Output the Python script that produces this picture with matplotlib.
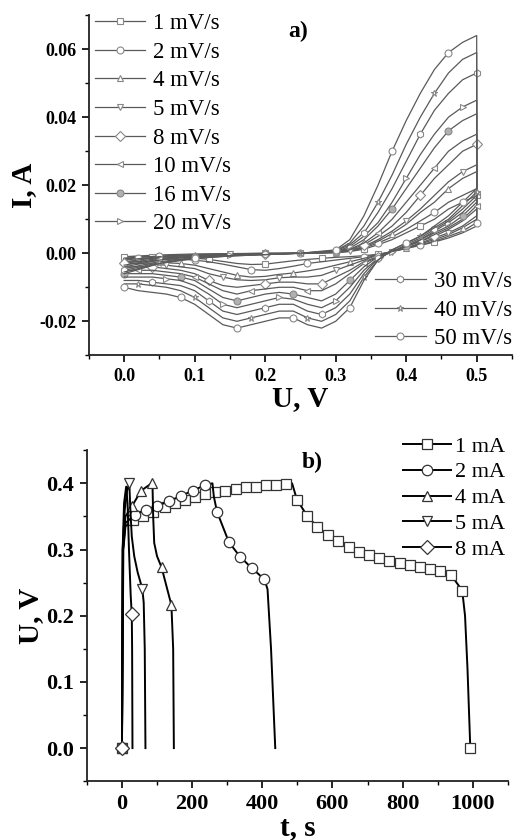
import matplotlib
matplotlib.use("Agg")
import matplotlib.pyplot as plt
from matplotlib.ticker import MultipleLocator, FormatStrFormatter

plt.rcParams["font.family"] = ["Liberation Serif", "DejaVu Serif"]

# ---- panel a: cyclic voltammograms ----
scan_labels = ["1 mV/s", "2 mV/s", "4 mV/s", "5 mV/s", "8 mV/s", "10 mV/s",
               "16 mV/s", "20 mV/s", "30 mV/s", "40 mV/s", "50 mV/s"]
scan_markers = ["s", "o", "^", "v", "D", "<", "o", ">", "h", "*", "o"]

u_fwd = [0.00, 0.05, 0.10, 0.15, 0.20, 0.25, 0.30, 0.32, 0.34, 0.36, 0.38,
         0.40, 0.42, 0.44, 0.46, 0.48, 0.50]
u_rev = [0.50, 0.48, 0.46, 0.44, 0.42, 0.40, 0.38, 0.36, 0.34, 0.32, 0.30,
         0.28, 0.26, 0.24, 0.22, 0.20, 0.18, 0.16, 0.14, 0.12, 0.10, 0.08,
         0.06, 0.04, 0.02, 0.00]

i_fwd = [
    [-0.001, -0.0005, -0.0002, -0.0001, 0.0, 0.0, 0.0002, 0.0005, 0.0012, 0.0025, 0.004, 0.006, 0.008, 0.010, 0.013, 0.015, 0.017],
    [-0.0015, -0.0008, -0.0004, -0.0002, 0.0, 0.0, 0.0002, 0.0006, 0.0015, 0.003, 0.0048, 0.007, 0.0095, 0.012, 0.015, 0.017, 0.019],
    [-0.002, -0.001, -0.0005, -0.0002, -0.0001, 0.0, 0.0002, 0.0007, 0.0018, 0.0035, 0.0058, 0.0085, 0.012, 0.015, 0.019, 0.022, 0.024],
    [-0.0025, -0.0012, -0.0006, -0.0003, -0.0001, 0.0, 0.0003, 0.0008, 0.002, 0.004, 0.0065, 0.0095, 0.013, 0.017, 0.021, 0.024, 0.026],
    [-0.003, -0.0015, -0.0008, -0.0004, -0.0002, 0.0, 0.0003, 0.001, 0.0025, 0.005, 0.008, 0.012, 0.017, 0.022, 0.026, 0.030, 0.032],
    [-0.0035, -0.0018, -0.0009, -0.0004, -0.0002, 0.0, 0.0004, 0.0012, 0.003, 0.006, 0.010, 0.015, 0.020, 0.025, 0.030, 0.033, 0.035],
    [-0.004, -0.002, -0.001, -0.0005, -0.0002, 0.0, 0.0005, 0.0015, 0.004, 0.008, 0.013, 0.019, 0.025, 0.031, 0.036, 0.039, 0.041],
    [-0.0045, -0.0025, -0.0012, -0.0006, -0.0003, 0.0, 0.0005, 0.002, 0.005, 0.009, 0.015, 0.022, 0.029, 0.035, 0.040, 0.043, 0.045],
    [-0.005, -0.0028, -0.0014, -0.0007, -0.0003, 0.0, 0.0007, 0.0025, 0.006, 0.012, 0.019, 0.027, 0.035, 0.042, 0.047, 0.051, 0.053],
    [-0.0055, -0.003, -0.0015, -0.0008, -0.0004, 0.0, 0.0008, 0.003, 0.008, 0.015, 0.023, 0.032, 0.040, 0.047, 0.053, 0.057, 0.059],
    [-0.006, -0.003, -0.0015, -0.0008, -0.0004, 0.0, 0.001, 0.004, 0.011, 0.020, 0.030, 0.039, 0.047, 0.054, 0.059, 0.062, 0.064],
]

i_rev = [
    [0.008, 0.006, 0.0045, 0.0033, 0.0023, 0.0014, 0.0005, -0.0003, -0.0007, -0.001, -0.0012, -0.0015, -0.0018, -0.0022, -0.0027, -0.0032, -0.0033, -0.003, -0.0024, -0.0018, -0.0014, -0.0012, -0.0011, -0.001, -0.001, -0.001],
    [0.009, 0.0065, 0.005, 0.0035, 0.0025, 0.0015, 0.0005, -0.0005, -0.001, -0.0015, -0.002, -0.0025, -0.003, -0.0038, -0.0045, -0.005, -0.0048, -0.004, -0.0032, -0.0025, -0.002, -0.0018, -0.0017, -0.0016, -0.0015, -0.0015],
    [0.010, 0.0075, 0.0055, 0.004, 0.0028, 0.0015, 0.0005, -0.0005, -0.0015, -0.0025, -0.0035, -0.0045, -0.0052, -0.0058, -0.0062, -0.0068, -0.007, -0.0065, -0.0055, -0.0045, -0.0035, -0.003, -0.0028, -0.0025, -0.0025, -0.0025],
    [0.011, 0.008, 0.006, 0.0045, 0.003, 0.0015, 0.0005, -0.0005, -0.002, -0.0035, -0.005, -0.0065, -0.007, -0.007, -0.0072, -0.0078, -0.008, -0.0078, -0.007, -0.006, -0.0045, -0.004, -0.0035, -0.0032, -0.003, -0.003],
    [0.013, 0.0095, 0.007, 0.005, 0.0035, 0.002, 0.0005, -0.001, -0.0025, -0.005, -0.007, -0.009, -0.009, -0.0085, -0.0085, -0.009, -0.0095, -0.010, -0.0095, -0.008, -0.006, -0.005, -0.0045, -0.004, -0.004, -0.004],
    [0.014, 0.010, 0.0075, 0.0055, 0.0035, 0.002, 0.0005, -0.001, -0.003, -0.006, -0.009, -0.011, -0.011, -0.010, -0.010, -0.0105, -0.011, -0.012, -0.011, -0.009, -0.007, -0.006, -0.0055, -0.005, -0.005, -0.005],
    [0.015, 0.011, 0.008, 0.006, 0.004, 0.002, 0.0005, -0.001, -0.004, -0.008, -0.012, -0.014, -0.013, -0.012, -0.0115, -0.012, -0.013, -0.014, -0.013, -0.0105, -0.008, -0.007, -0.0065, -0.006, -0.006, -0.006],
    [0.016, 0.012, 0.009, 0.0065, 0.004, 0.002, 0.0005, -0.0015, -0.005, -0.010, -0.014, -0.016, -0.015, -0.0135, -0.013, -0.014, -0.015, -0.016, -0.015, -0.012, -0.0095, -0.008, -0.0075, -0.007, -0.007, -0.007],
    [0.017, 0.013, 0.0095, 0.007, 0.0045, 0.0025, 0.0005, -0.0015, -0.006, -0.012, -0.016, -0.018, -0.017, -0.015, -0.015, -0.016, -0.017, -0.018, -0.017, -0.014, -0.011, -0.0095, -0.009, -0.0085, -0.008, -0.008],
    [0.018, 0.014, 0.010, 0.0075, 0.005, 0.003, 0.001, -0.002, -0.007, -0.014, -0.018, -0.020, -0.019, -0.017, -0.017, -0.018, -0.019, -0.020, -0.019, -0.016, -0.013, -0.011, -0.010, -0.0095, -0.009, -0.009],
    [0.019, 0.015, 0.011, 0.008, 0.005, 0.003, 0.001, -0.002, -0.008, -0.016, -0.020, -0.022, -0.021, -0.019, -0.019, -0.020, -0.021, -0.022, -0.021, -0.018, -0.015, -0.013, -0.012, -0.0115, -0.011, -0.010],
]

# ---- panel b: galvanostatic charge / discharge ----
gcd_labels = ["1 mA", "2 mA", "4 mA", "5 mA", "8 mA"]
gcd_markers = ["s", "o", "^", "v", "D"]

t_1ma = [0, 4, 10, 31, 60, 89, 122, 151, 180, 208, 237, 266, 295, 324, 353, 381, 410, 439, 468, 485,
         499, 528, 557, 586, 617, 646, 675, 704, 733, 761, 792, 821, 850, 879, 908, 939, 970, 978, 985, 993]
u_1ma = [0.0, 0.30, 0.335, 0.344, 0.350, 0.357, 0.365, 0.370, 0.375, 0.380, 0.384, 0.387, 0.389, 0.391, 0.394, 0.395, 0.397, 0.398, 0.399, 0.400,
         0.375, 0.351, 0.334, 0.322, 0.313, 0.304, 0.297, 0.292, 0.287, 0.283, 0.279, 0.276, 0.273, 0.270, 0.267, 0.261, 0.238, 0.200, 0.120, 0.0]
t_2ma = [0, 3, 10, 36, 69, 101, 135, 168, 202, 236, 258, 262, 271, 305, 337, 370, 406, 415, 425, 437]
u_2ma = [0.0, 0.30, 0.34, 0.352, 0.360, 0.366, 0.373, 0.381, 0.389, 0.397, 0.400, 0.38, 0.357, 0.311, 0.289, 0.272, 0.255, 0.24, 0.15, 0.0]
t_4ma = [0, 3, 10, 29, 55, 87, 89, 92, 100, 113, 141, 146, 148]
u_4ma = [0.0, 0.30, 0.35, 0.366, 0.389, 0.401, 0.35, 0.31, 0.29, 0.273, 0.216, 0.15, 0.0]
t_5ma = [0, 2, 8, 15, 21, 24, 28, 35, 45, 58, 62, 65, 67]
u_5ma = [0.0, 0.30, 0.36, 0.39, 0.400, 0.36, 0.32, 0.29, 0.265, 0.241, 0.22, 0.15, 0.0]
t_8ma = [0, 2, 6, 12, 16, 20, 25, 28, 29, 30]
u_8ma = [0.0, 0.30, 0.37, 0.395, 0.37, 0.30, 0.23, 0.202, 0.15, 0.0]

# indices that carry a marker
gcd_marked = [
    [0] + list(range(3, 19)) + list(range(20, 37)) + [39],
    [0] + list(range(3, 10)) + list(range(12, 17)),
    [0, 3, 4, 5, 9, 10],
    [0, 4, 9],
    [0, 7],
]

fig = plt.figure(figsize=(5.14, 8.4), dpi=100)
ax1 = fig.add_axes([0.173, 0.577, 0.823, 0.405])
ax2 = fig.add_axes([0.169, 0.070, 0.819, 0.394])

gray = "#5a5a5a"
for k in range(len(scan_labels)):
    u = u_fwd + u_rev
    i = i_fwd[k] + i_rev[k]
    face = "#b0b0b0" if scan_labels[k] == "16 mV/s" else "white"
    ax1.plot(u, i, color=gray, lw=0.9, marker=scan_markers[k], ms=5,
             mfc=face, mec="#888888", mew=0.8, markevery=(k % 4, 4),
             label=scan_labels[k])

h1, l1 = ax1.get_legend_handles_labels()
leg_kw = dict(frameon=False, fontsize=16.5, handlelength=2.2, handletextpad=0.35,
              labelspacing=0.33, borderpad=0, borderaxespad=0)
leg1 = ax1.legend(h1[:8], l1[:8], loc="upper left", bbox_to_anchor=(0.014, 1.006), **leg_kw)
ax1.add_artist(leg1)
ax1.legend(h1[8:], l1[8:], loc="lower right", bbox_to_anchor=(1.0, 0.018), **leg_kw)

ax1.set_xlim(-0.05, 0.55)
ax1.set_ylim(-0.03, 0.07)
ax1.xaxis.set_major_locator(MultipleLocator(0.1))
ax1.xaxis.set_minor_locator(MultipleLocator(0.05))
ax1.yaxis.set_major_locator(MultipleLocator(0.02))
ax1.yaxis.set_minor_locator(MultipleLocator(0.01))
ax1.xaxis.set_major_formatter(FormatStrFormatter("%.1f"))
ax1.yaxis.set_major_formatter(FormatStrFormatter("%.2f"))
ax1.set_xlabel("U, V", fontsize=21, fontweight="bold", labelpad=0)
ax1.set_ylabel("I, A", fontsize=21, fontweight="bold", labelpad=2)
ax1.text(0.494, 0.953, "a)", transform=ax1.transAxes, fontsize=17,
         fontweight="bold", ha="center", va="center")

series_b = [(t_1ma, u_1ma), (t_2ma, u_2ma), (t_4ma, u_4ma), (t_5ma, u_5ma), (t_8ma, u_8ma)]
for k, (t, u) in enumerate(series_b):
    ax2.plot(t, u, color="black", lw=1.4, marker=gcd_markers[k], ms=7.5,
             mfc="white", mec="#333333", mew=0.9, markevery=gcd_marked[k],
             label=gcd_labels[k])

ax2.legend(loc="upper right", bbox_to_anchor=(0.994, 1.043), frameon=False,
           fontsize=16, handlelength=2.15, handletextpad=0.2, labelspacing=0.24,
           borderpad=0, borderaxespad=0)
ax2.set_xlim(-100, 1100)
ax2.set_ylim(-0.05, 0.45)
ax2.xaxis.set_major_locator(MultipleLocator(200))
ax2.xaxis.set_minor_locator(MultipleLocator(100))
ax2.yaxis.set_major_locator(MultipleLocator(0.1))
ax2.yaxis.set_minor_locator(MultipleLocator(0.05))
ax2.yaxis.set_major_formatter(FormatStrFormatter("%.1f"))
ax2.set_xlabel("t, s", fontsize=21, fontweight="bold", labelpad=0)
ax2.set_ylabel("U, V", fontsize=21, fontweight="bold", labelpad=2)
ax2.text(0.535, 0.964, "b)", transform=ax2.transAxes, fontsize=17,
         fontweight="bold", ha="center", va="center")

for ax, size in ((ax1, 13), (ax2, 16)):
    ax.spines["top"].set_visible(False)
    ax.spines["right"].set_visible(False)
    for s in ("left", "bottom"):
        ax.spines[s].set_linewidth(1.3)
        ax.spines[s].set_color("#222222")
    ax.tick_params(which="major", direction="out", length=5, width=1.2,
                   labelsize=size, pad=4)
    ax.tick_params(which="minor", direction="out", length=3, width=1.0)
    for lbl in ax.get_xticklabels() + ax.get_yticklabels():
        lbl.set_fontweight("bold")

fig.savefig("out.png", dpi=100)
